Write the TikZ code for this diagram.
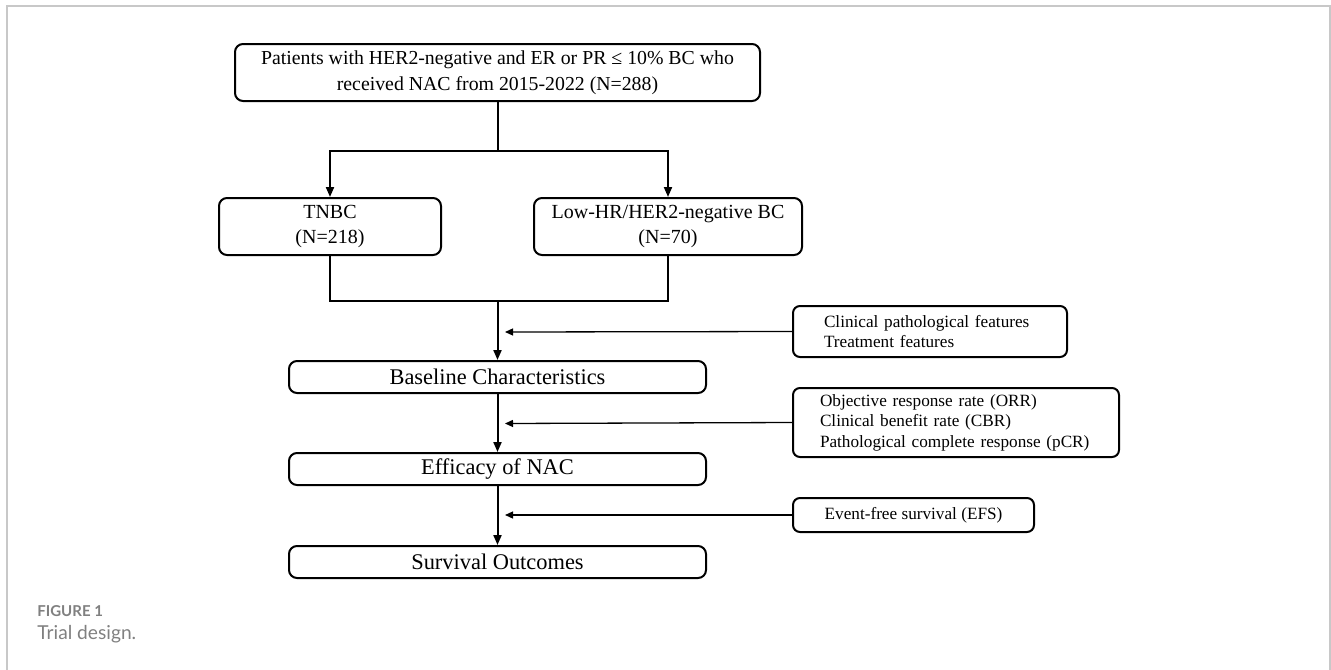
\documentclass[tikz,border=0pt]{standalone}
\usepackage{fontspec}
\setmainfont{Liberation Serif}
\newfontfamily\capfont{Lato}
\usetikzlibrary{arrows.meta}
\definecolor{framegray}{RGB}{200,200,200}
\definecolor{capgray}{RGB}{128,128,128}

\begin{document}
\begin{tikzpicture}[x=0.5pt,y=-0.5pt,
    mainbox/.style={draw,line width=1pt,rounded corners=4pt,align=center,inner sep=0pt,font=\fontsize{11.2}{12.5}\selectfont},
    groupbox/.style={mainbox,minimum height=28.5pt,font=\fontsize{10}{12.5}\selectfont},
    sidebox/.style={draw,line width=1pt,rounded corners=3.5pt,align=left,inner xsep=15.5pt,inner ysep=0pt,font=\fontsize{8.6}{10.2}\selectfont},
    link/.style={line width=1pt,-{Triangle[length=5pt,width=4pt]}},
    sidelink/.style={line width=0.65pt,-{Triangle[length=4pt,width=3.5pt]}}]
    \useasboundingbox (0,0) rectangle (1331,669);
    \draw[framegray,line width=0.8pt] (7,700) -- (7,6) -- (1330,6) -- (1330,700);

    % main flow
    \node[mainbox,minimum width=262.5pt,minimum height=28.5pt,font=\fontsize{9.9}{13}\selectfont] (pat) at (497.5,72.5)
        {Patients with HER2-negative and ER or PR ≤ 10\% BC who\\received NAC from 2015-2022 (N=288)};
    \node[groupbox,minimum width=111pt] (tnbc) at (330,226.5) {TNBC\\(N=218)};
    \node[groupbox,minimum width=134pt] (lowhr) at (668,226.5) {Low-HR/HER2-negative BC\\(N=70)};
    \node[mainbox,minimum width=208.5pt,minimum height=16pt] (base) at (497.5,377) {Baseline Characteristics};
    \node[mainbox,minimum width=208.5pt,minimum height=16pt] (eff) at (497.5,469) {Efficacy of NAC};
    \node[mainbox,minimum width=208.5pt,minimum height=16pt] (surv) at (497.5,562) {Survival Outcomes};

    % side notes
    \node[sidebox,text width=106pt,minimum height=25.5pt] (clin) at (930,331.5)
        {Clinical pathological features\\Treatment features};
    \node[sidebox,inner xsep=13.5pt,text width=136pt,minimum height=34.5pt] (orr) at (956,422.5)
        {Objective response rate (ORR)\\Clinical benefit rate (CBR)\\Pathological complete response (pCR)};
    \node[sidebox,align=center,inner xsep=0pt,minimum width=120.5pt,minimum height=17pt] (efs) at (913.5,515)
        {Event-free survival (EFS)};

    \coordinate (split) at (497.5,151);
    \coordinate (join) at (497.5,301);
    \coordinate (c1) at (505,332);
    \coordinate (c2) at (505,423.5);
    \coordinate (c3) at (505,515);

    \draw[line width=1pt] (pat) -- (split);
    \draw[link] (split) -| (tnbc);
    \draw[link] (split) -| (lowhr);
    \draw[line width=1pt] (tnbc) |- (join);
    \draw[line width=1pt] (lowhr) |- (join);
    \draw[link] (join) -- (base);
    \draw[link] (base) -- (eff);
    \draw[link] (eff) -- (surv);

    \draw[sidelink] (clin.west) -- (c1);
    \draw[sidelink] (orr.west) -- (c2);
    \draw[sidelink] (efs.west) -- (c3);

    % caption
    \node[anchor=west,inner sep=0pt,text=capgray,font=\capfont\bfseries\fontsize{7.5}{9}\selectfont] (fig) at (37,611) {FIGURE 1};
    \node[anchor=west,inner sep=0pt,text=capgray,font=\capfont\fontsize{9.6}{11}\selectfont] (cap) at (37,634) {Trial design.};
\end{tikzpicture}
\end{document}
